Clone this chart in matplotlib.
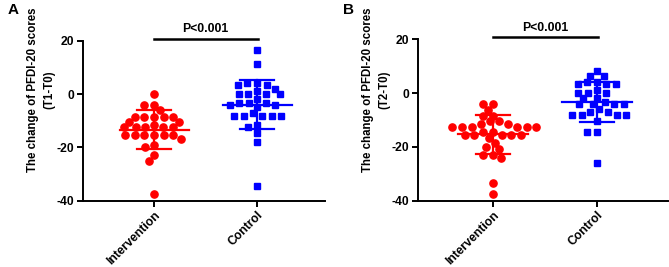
import numpy as np
import matplotlib
matplotlib.use("Agg")
import matplotlib.pyplot as plt

plt.rcParams['font.family'] = ['Liberation Sans', 'DejaVu Sans']
plt.rcParams['font.weight'] = 'bold'
plt.rcParams['axes.unicode_minus'] = False

# values
groups = ['Intervention', 'Control']
a_intervention = [0, -4, -4, -6, -8.5, -8.5, -8.5, -8.5, -8.5, -10.5, -10.5, -11.5,
                  -12.5, -12.5, -12.5, -12.5, -12.5, -15.5, -15.5, -15.5, -15.5, -15.5,
                  -15.5, -17, -19, -20, -23, -25, -37.5]
a_control = [16.75, 11.5, 4, 4, 3.4, 3.4, 2.1, 1.1, 0, 0, 0, 0, -2, -3.2, -3.2, -3.2,
             -4.1, -4.1, -5, -7.2, -8.2, -8.2, -8.2, -8.2, -8.2, -11.6, -12.2, -14.5,
             -17.8, -34.5]
b_intervention = [-4.2, -4.2, -6.3, -8.3, -8.3, -10.5, -10.5, -11.5, -11.5, -12.5, -12.5,
                  -12.5, -12.5, -12.5, -12.5, -14.6, -14.6, -15.6, -15.6, -15.6, -15.6,
                  -15.6, -16.8, -18.7, -19.9, -20.9, -22.9, -24, -22.9, -33.3, -37.5]
b_control = [8.2, 6.5, 6.5, 4.2, 4.2, 3.3, 3.3, 3.3, 1.0, 0.2, 0.2, 0.2, -1.9, -1.9, -3.2,
             -4.1, -4.1, -4.1, -4.1, -6, -7.1, -7.1, -8.1, -8.1, -8.1, -8.1, -10.4, -14.6,
             -14.6, -25.9]
yticks = [-40, -20, 0, 20]
p_text = 'P<0.001'

RED = '#ff0000'
BLUE = '#0000ff'


def swarm_offsets(ax, vals, d_px, ystretch=1.5):
    # beeswarm in pixel space; vertical gaps count more than horizontal ones,
    # so rows sit close together like in prism's scatter plots
    vals = np.asarray(vals, dtype=float)
    ys = ax.transData.transform(np.column_stack([np.zeros(len(vals)), vals]))[:, 1]
    ys = ys * ystretch
    xs = np.zeros(len(vals))
    placed = []
    for i in np.argsort(-ys, kind='stable'):
        y = ys[i]
        cands = [0.0]
        for px, py in placed:
            dy = abs(py - y)
            if dy < d_px:
                dx = np.sqrt(d_px ** 2 - dy ** 2)
                cands += [px - dx, px + dx]
        cands.sort(key=abs)
        for c in cands:
            if all((c - px) ** 2 + (y - py) ** 2 >= d_px ** 2 - 1e-6 for px, py in placed):
                xs[i] = c
                break
        placed.append((xs[i], y))
    x0 = ax.transData.transform((0, 0))[0]
    x1 = ax.transData.transform((1, 0))[0]
    return xs / (x1 - x0)


def panel(ax, inter, ctrl, xlim):
    ax.set_xlim(*xlim)
    ax.set_ylim(-40, 20)
    for pos, vals, col, mk, ms in [(0, inter, RED, 'o', 5.2), (1, ctrl, BLUE, 's', 4.8)]:
        off = swarm_offsets(ax, vals, 9.7)
        ax.plot(pos + off, vals, linestyle='none', marker=mk, ms=ms, color=col,
                mec=col, zorder=2, clip_on=False)
        m = np.mean(vals)
        s = np.std(vals, ddof=1)
        ax.plot([pos - 0.335, pos + 0.335], [m, m], color=col, lw=1.6, zorder=3)
        ax.plot([pos, pos], [m - s, m + s], color=col, lw=1.6, zorder=3)
        for yy in (m - s, m + s):
            ax.plot([pos - 0.165, pos + 0.165], [yy, yy], color=col, lw=1.6, zorder=3)

    for sp in ['top', 'right']:
        ax.spines[sp].set_visible(False)
    for sp in ['left', 'bottom']:
        ax.spines[sp].set_linewidth(1.4)
    ax.set_yticks(yticks)
    ax.set_xticks([0, 1])
    ax.set_xticklabels(groups, rotation=45, ha='right', va='top', rotation_mode='anchor')
    ax.tick_params(width=1.4, length=4, labelsize=8.7, pad=2)
    for t in ax.get_yticklabels() + ax.get_xticklabels():
        t.set_fontweight('bold')

    # significance bar
    ax.plot([0, 1.01], [20.8, 20.8], color='black', lw=1.8, clip_on=False)
    ax.text(0.5, 24.3, p_text, ha='center', va='center', fontsize=8.8,
            fontweight='bold', clip_on=False)


fig = plt.figure(figsize=(6.69, 2.67), dpi=100)
ax1 = fig.add_axes([0.124, 0.248, 0.362, 0.599])
ax2 = fig.add_axes([0.6244, 0.248, 0.374, 0.6045])

panel(ax1, a_intervention, a_control, (-0.69, 1.66))
panel(ax2, b_intervention, b_control, (-0.72, 1.68))

fig.text(0.062, 0.665, 'The change of PFDI-20 scores\n(T1-T0)', rotation=90,
         ha='center', va='center', ma='center', fontsize=8.3, fontweight='bold',
         linespacing=1.5)
fig.text(0.562, 0.665, 'The change of PFDI-20 scores\n(T2-T0)', rotation=90,
         ha='center', va='center', ma='center', fontsize=8.3, fontweight='bold',
         linespacing=1.5)

fig.text(0.012, 0.962, 'A', fontsize=11, fontweight='bold', ha='left', va='center')
fig.text(0.512, 0.962, 'B', fontsize=11, fontweight='bold', ha='left', va='center')

fig.savefig('out.png', dpi=100)
